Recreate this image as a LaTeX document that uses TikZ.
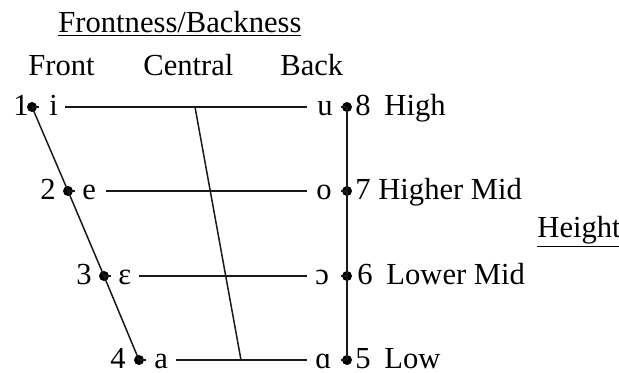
\documentclass[tikz,border=0pt]{standalone}
\usepackage{fontspec}
\setmainfont{Liberation Serif}
\begin{document}
\begin{tikzpicture}[x=0.5pt,y=-0.5pt,
  lab/.style={anchor=base west,inner sep=0pt,font=\fontsize{15.3}{18}\selectfont,text=black},
  dot/.style={circle,fill=black,inner sep=0pt,minimum size=5pt},
  ln/.style={line width=0.75pt,draw=black!90}]
\useasboundingbox (0,0) rectangle (619,372);
% headers
\node[lab] (fb) at (58,32) {\underline{Frontness/Backness}};
\node[lab] (front) at (28,75) {Front};
\node[lab] (central) at (143,75) {Central};
\node[lab] (back) at (280,75) {Back};
\node[lab] (height) at (537,237) {\underline{Height}};
% dots
\node[dot] (d1) at (32,107) {};
\node[dot] (d2) at (68,191) {};
\node[dot] (d3) at (104,276) {};
\node[dot] (d4) at (139,360) {};
\node[dot] (d8) at (347,107) {};
\node[dot] (d7) at (347,191) {};
\node[dot] (d6) at (347,276) {};
\node[dot] (d5) at (347,360) {};
% numbers left
\node[lab] (n1) at (13,115) {1};
\node[lab] (n2) at (40,199) {2};
\node[lab] (n3) at (76,284) {3};
\node[lab] (n4) at (110,368) {4};
% vowels
\node[lab] (vi) at (49,115) {i};
\node[lab] (ve) at (82,199) {e};
\node[lab] (veps) at (118,284) {ɛ};
\node[lab] (va) at (154,368) {a};
\node[lab] (vu) at (317,115) {u};
\node[lab] (vo) at (316,199) {o};
\node[lab] (vopen) at (315,284) {ɔ};
\node[lab] (valpha) at (315,368) {ɑ};
% height labels
\node[lab] (h8) at (355,115) {8\hspace{0.45em}High};
\node[lab] (h7) at (355,199) {7 Higher Mid};
\node[lab] (h6) at (357,284) {6\hspace{0.45em}Lower Mid};
\node[lab] (h5) at (355,368) {5\hspace{0.45em}Low};
% line ends
\coordinate (a1) at (65,107);  \coordinate (b1) at (307,107);
\coordinate (a2) at (106,191); \coordinate (b2) at (307,191);
\coordinate (a3) at (139,276); \coordinate (b3) at (307,276);
\coordinate (a4) at (176,360); \coordinate (b4) at (307,360);
\coordinate (c1) at (195,107); \coordinate (c4) at (241,360);
% connectors
\draw[ln] (a1) -- (b1);
\draw[ln] (a2) -- (b2);
\draw[ln] (a3) -- (b3);
\draw[ln] (a4) -- (b4);
\draw[ln] (c1) -- (c4);
\draw[ln] (d1.center) -- (d2.center) -- (d3.center) -- (d4.center);
\draw[ln] (d8.center) -- (d7.center) -- (d6.center) -- (d5.center);
% small stubs
\foreach \d in {d1,d2,d3,d4} \draw[ln] (\d.center) -- ++(7,0);
\foreach \d in {d8,d7,d6,d5} \draw[ln] (\d.center) -- ++(-6,0);
\end{tikzpicture}
\end{document}
